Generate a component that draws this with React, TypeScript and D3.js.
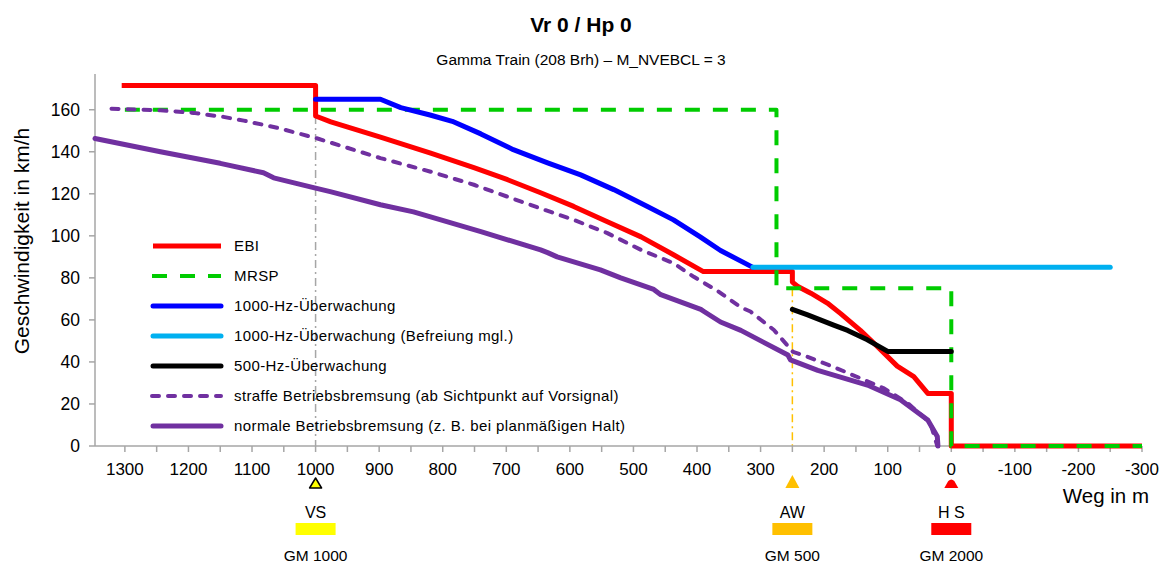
import React from 'react';
import * as d3 from 'd3';

// distance to stop point in m, speed in km/h
const ebi: [number, number][] = [
  [1305, 171.5], [1000, 171.5], [1000, 157], [976, 154.2], [898, 147], [819, 139.3],
  [751, 132.4], [698, 126.7], [646, 120.5], [594, 114], [541, 106.7], [488, 99.5],
  [437, 91], [390, 83], [250, 83], [250, 78], [242, 76], [221, 72.7], [195, 68],
  [174, 63], [143, 55], [122, 49], [85, 38], [59, 33], [37, 25], [0, 25], [0, 0], [-300, 0]
];
const mrsp: [number, number][] = [
  [1300, 160], [275, 160], [275, 75], [0, 75], [0, 0], [-300, 0]
];
const hz1000: [number, number][] = [
  [1000, 165], [898, 165], [866, 161], [820, 157.5], [785, 154.5], [740, 148.5],
  [689, 141], [635, 134.7], [583, 129], [531, 122], [478, 114], [437, 107.6],
  [395, 99.5], [363, 93], [312, 85]
];
const hz1000Befreiung: [number, number][] = [[312, 85], [-250, 85]];
const hz500: [number, number][] = [
  [250, 65], [226, 62.4], [206, 60], [185, 57.5], [163, 55], [132, 50.5], [100, 45], [0, 45]
];
const straff: [number, number][] = [
  [1321, 160.5], [1244, 159.7], [1192, 158.5], [1145, 156.6], [1113, 154.8], [1060, 151.4],
  [997, 146.3], [898, 137], [819, 130.5], [751, 124.3], [698, 118.6], [646, 113],
  [594, 107.6], [541, 101.3], [488, 93.3], [437, 87], [405, 80.5], [368, 73.8],
  [331, 66], [316, 64], [279, 55.2], [249, 44.8], [226, 42.4], [185, 37.6],
  [107, 27.6], [69, 20.5], [33, 11], [22, 0]
];
const normal: [number, number][] = [
  [1347, 146.3], [1244, 140], [1150, 134.5], [1082, 130], [1066, 127.6], [1000, 122.7],
  [977, 121], [898, 114.8], [846, 111.4], [803, 107.6], [740, 102], [646, 93.3],
  [635, 92], [620, 90], [552, 83.8], [520, 80], [468, 74.5], [457, 72], [394, 65],
  [389, 64], [363, 59], [331, 55], [257, 43.3], [253, 41], [210, 36], [132, 29],
  [80, 22], [37, 12.4], [22, 4.5], [21, 0]
];

const yTicks = [0, 20, 40, 60, 80, 100, 120, 140, 160];
const xLabels = [1300, 1200, 1100, 1000, 900, 800, 700, 600, 500, 400, 300, 200, 100, 0, -100, -200, -300];

const markers = [
  { pos: 1000, label: 'VS', gm: 'GM 1000', color: '#FFFF00' },
  { pos: 250, label: 'AW', gm: 'GM 500', color: '#FFC000' },
  { pos: 0, label: 'H S', gm: 'GM 2000', color: '#FF0000' }
];

const FONT = '"Liberation Sans", Arial, sans-serif';

const series = [
  { name: 'EBI', data: ebi, color: '#FF0000', width: 5, dash: undefined, cap: 'butt' },
  { name: 'MRSP', data: mrsp, color: '#00CC00', width: 4, dash: '15,13', cap: 'butt' },
  { name: '1000-Hz-Überwachung', data: hz1000, color: '#0000FF', width: 5, dash: undefined, cap: 'round' },
  { name: '1000-Hz-Überwachung (Befreiung mgl.)', data: hz1000Befreiung, color: '#00B0F0', width: 5, dash: undefined, cap: 'round' },
  { name: '500-Hz-Überwachung', data: hz500, color: '#000000', width: 5, dash: undefined, cap: 'round' },
  { name: 'straffe Betriebsbremsung (ab Sichtpunkt auf Vorsignal)', data: straff, color: '#7030A0', width: 4, dash: '7,9', cap: 'round' },
  { name: 'normale Betriebsbremsung (z. B. bei planmäßigen Halt)', data: normal, color: '#7030A0', width: 5, dash: undefined, cap: 'round' }
];

export default function App() {
  const x = d3.scaleLinear().domain([1347, -300]).range([95, 1142]);
  const y = d3.scaleLinear().domain([0, 177]).range([446, 74]);
  const line = d3.line<[number, number]>().x(d => x(d[0])).y(d => y(d[1]));
  const xTickMarks = d3.range(1300, -301, -50);
  const axisColor = '#A6A6A6';

  return (
    <div style={{ position: 'absolute', left: 0, top: 0 }}>
      <svg width={1162} height={565} style={{ display: 'block', fontFamily: FONT }}>
        <rect width={1162} height={565} fill="#fff" />
        <text x={581} y={32} textAnchor="middle" fontSize={21} fontWeight="bold">Vr 0 / Hp 0</text>
        <text x={581} y={65} textAnchor="middle" fontSize={15.5}>Gamma Train (208 Brh) – M_NVEBCL = 3</text>

        {/* reference lines */}
        <line x1={x(1000)} x2={x(1000)} y1={y(157)} y2={y(0)} stroke="#A6A6A6" strokeWidth={1.5} strokeDasharray="8,4,2,4" />
        <line x1={x(250)} x2={x(250)} y1={y(75)} y2={y(0)} stroke="#FFC000" strokeWidth={1.5} strokeDasharray="8,4,2,4" />

        {/* axes */}
        <line x1={95} x2={95} y1={74} y2={446} stroke={axisColor} strokeWidth={1.5} />
        <line x1={95} x2={1142} y1={446} y2={446} stroke={axisColor} strokeWidth={1.5} />
        {yTicks.map(t => (
          <g key={t}>
            <line x1={89} x2={95} y1={y(t)} y2={y(t)} stroke={axisColor} strokeWidth={1.5} />
            <text x={80} y={y(t)} dy="0.35em" textAnchor="end" fontSize={17.5}>{t}</text>
          </g>
        ))}
        {xTickMarks.map(t => (
          <line key={t} x1={x(t)} x2={x(t)} y1={446} y2={452} stroke={axisColor} strokeWidth={1.5} />
        ))}
        {xLabels.map(t => (
          <text key={t} x={x(t)} y={475} textAnchor="middle" fontSize={17}>{String(t)}</text>
        ))}
        <text transform="translate(29,241) rotate(-90)" textAnchor="middle" fontSize={21}>Geschwindigkeit in km/h</text>
        <text x={1149} y={503} textAnchor="end" fontSize={20.5}>Weg in m</text>

        {/* series */}
        {series.map(s => (
          <path key={s.name} d={line(s.data) || ''} fill="none" stroke={s.color} strokeWidth={s.width}
            strokeDasharray={s.dash} strokeLinecap={s.cap as any} strokeLinejoin="round" />
        ))}

        {/* legend */}
        {series.map((s, i) => {
          const ly = 246 + i * 30;
          return (
            <g key={s.name}>
              <line x1={s.dash ? 152 : 153} x2={221} y1={ly} y2={ly} stroke={s.color} strokeWidth={s.width}
                strokeDasharray={s.dash} strokeLinecap={s.cap === 'butt' && !s.dash ? 'butt' : s.cap as any} />
              <text x={234} y={ly} dy="0.35em" fontSize={15} letterSpacing={0.4}>{s.name}</text>
            </g>
          );
        })}

        {/* signal markers */}
        {markers.map(m => {
          const cx = x(m.pos);
          let shape;
          if (m.label === 'VS') {
            shape = <path d={`M${cx - 6},488 L${cx},478 L${cx + 6},488 Z`} fill={m.color} stroke="#000" strokeWidth={1.5} strokeLinejoin="round" />;
          } else if (m.label === 'AW') {
            shape = <path d={`M${cx - 7},488 L${cx},475 L${cx + 7},488 Z`} fill={m.color} />;
          } else {
            shape = <path d={`M${cx - 7},488 L${cx - 3},481 Q${cx},478 ${cx + 3},481 L${cx + 7},488 Z`} fill={m.color} />;
          }
          return (
            <g key={m.label}>
              {shape}
              <text x={cx} y={518} textAnchor="middle" fontSize={16}>{m.label}</text>
              <rect x={cx - 20} y={523} width={40} height={12} fill={m.color} />
              <text x={cx} y={561} textAnchor="middle" fontSize={15.5}>{m.gm}</text>
            </g>
          );
        })}
      </svg>
    </div>
  );
}
